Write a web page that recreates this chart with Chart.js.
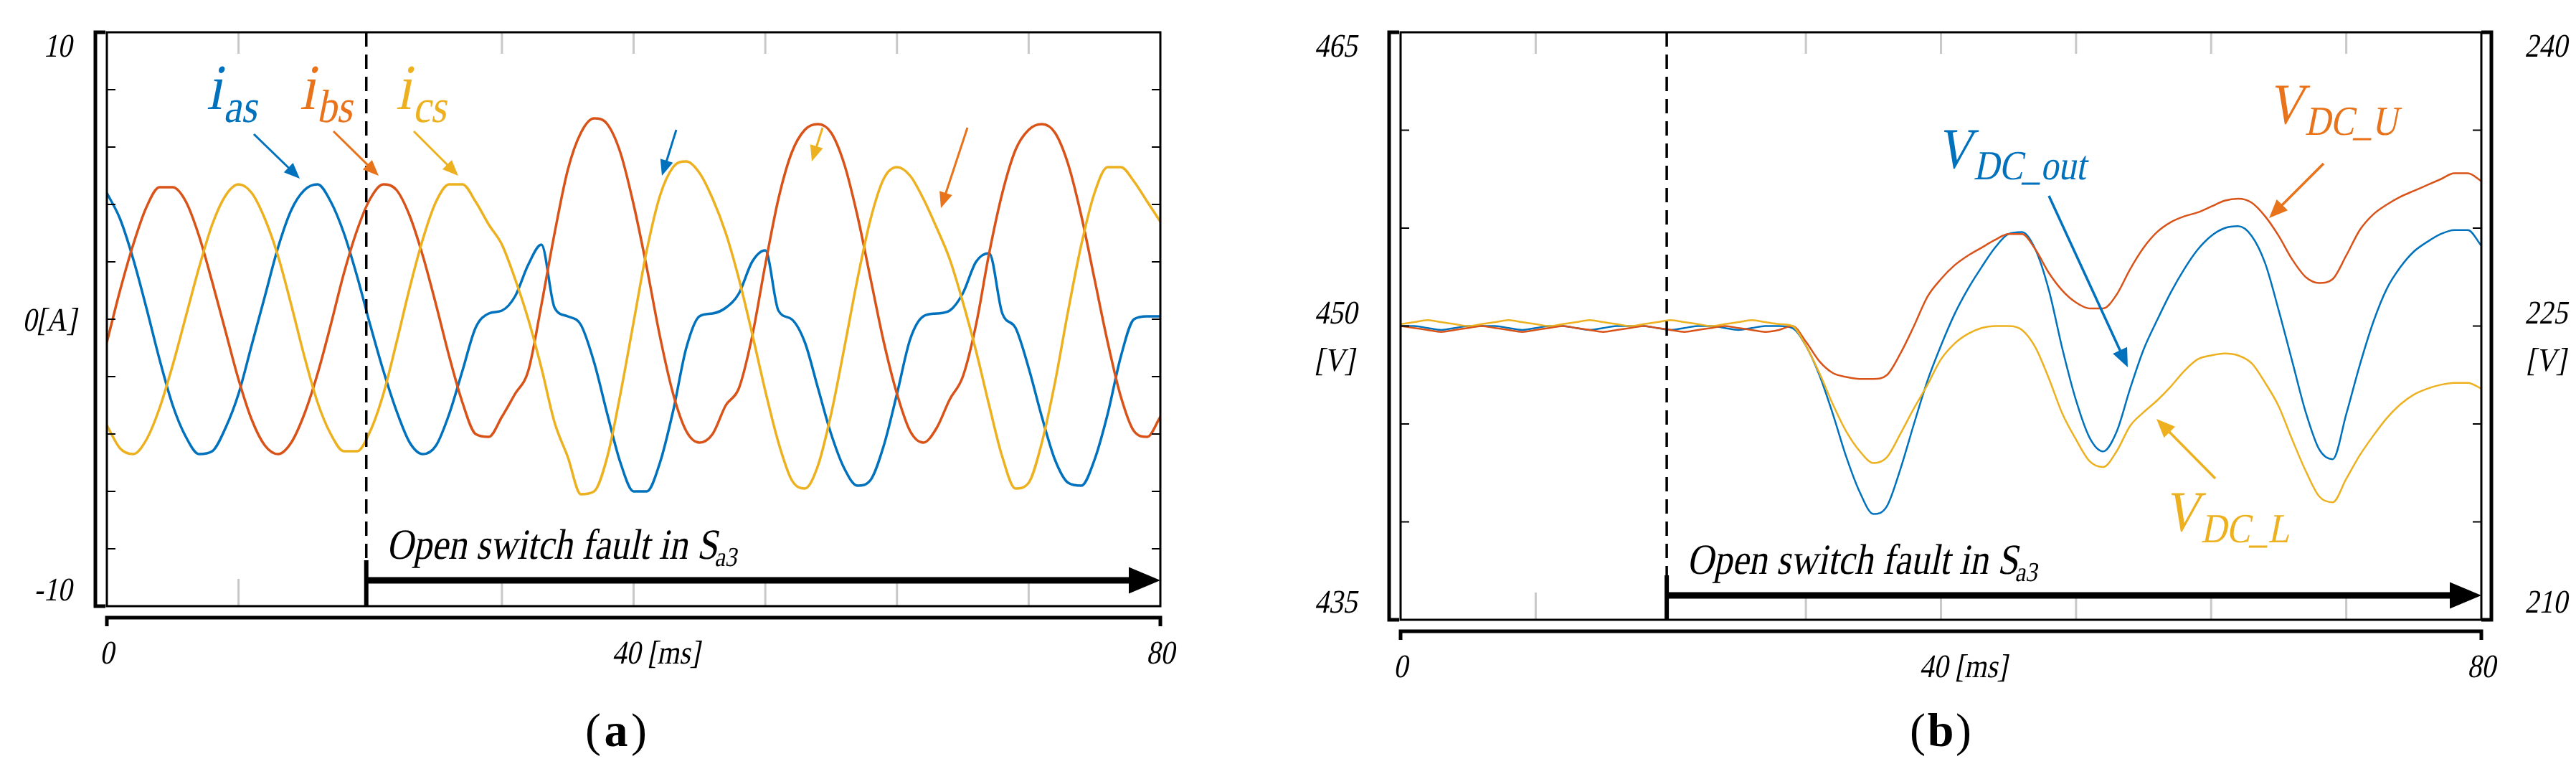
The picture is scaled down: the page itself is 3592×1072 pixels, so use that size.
<!DOCTYPE html>
<html><head><meta charset="utf-8">
<script src="https://cdn.jsdelivr.net/npm/chart.js@4/dist/chart.umd.min.js"></script>
<style>html,body{margin:0;padding:0;background:#fff;width:3592px;height:1072px;overflow:hidden}
canvas{position:absolute;top:0}</style></head><body>
<canvas id="ca" width="1780" height="1072" style="left:0"></canvas>
<canvas id="cb" width="1802" height="1072" style="left:1790px"></canvas>
<script>
// ---------- DATA ----------
const timeMs = Array.from({length:81},(_, i)=>i); // 0..80 ms, 1 ms steps
const ias = [4.4,3.5,2.1,0.4,-1.4,-3.0,-4.1,-4.7,-4.6,-3.8,-2.6,-0.9,0.8,2.5,3.8,4.5,4.7,4.1,3.0,1.5,
 -0.2,-1.8,-3.2,-4.3,-4.7,-4.4,-3.3,-1.8,-0.3,0.2,0.3,0.8,1.9,2.6,0.4,0.1,-0.2,-1.5,-3.3,-5.0,
 -6.0,-6.0,-5.0,-3.2,-1.0,0.1,0.2,0.4,0.9,2.0,2.4,0.3,0.0,-0.8,-2.4,-4.0,-5.2,-5.8,-5.6,-4.4,
 -2.6,-0.7,0.1,0.2,0.3,0.9,2.0,2.3,0.2,-0.3,-1.7,-3.4,-4.9,-5.7,-5.8,-4.9,-3.3,-1.3,0.0,0.1,0.1];
const ibs = [-0.8,1.0,2.6,3.9,4.6,4.6,4.1,2.9,1.3,-0.4,-2.1,-3.5,-4.4,-4.7,-4.3,-3.3,-1.9,-0.2,1.6,3.1,
 4.2,4.7,4.5,3.6,2.2,0.5,-1.3,-2.9,-4.0,-4.1,-3.4,-2.6,-1.8,0.5,3.0,5.2,6.5,7.0,6.8,5.8,
 4.0,1.8,-0.6,-2.6,-3.9,-4.3,-4.0,-3.0,-2.4,-0.6,1.9,4.2,5.8,6.6,6.8,6.5,5.4,3.6,1.4,-0.8,
 -2.6,-3.9,-4.3,-3.8,-2.8,-2.0,-0.2,2.3,4.4,5.9,6.6,6.8,6.5,5.4,3.6,1.4,-0.8,-2.7,-3.9,-4.1,-3.4];
const ics = [-3.7,-4.5,-4.7,-4.2,-3.1,-1.6,0.1,1.8,3.3,4.3,4.7,4.4,3.5,2.2,0.5,-1.3,-2.9,-4.0,-4.6,-4.6,
 -3.9,-2.6,-0.8,1.1,2.8,4.1,4.7,4.7,4.1,3.3,2.6,1.4,0.0,-1.7,-3.6,-4.8,-6.1,-6.0,-4.8,-2.6,
 -0.1,2.4,4.3,5.3,5.5,5.1,4.2,3.0,1.4,-0.5,-2.5,-4.3,-5.6,-5.9,-5.1,-3.3,-1.0,1.4,3.5,4.9,
 5.3,5.0,4.2,3.2,2.1,0.6,-1.1,-3.0,-4.8,-5.9,-5.7,-4.3,-2.2,0.3,2.6,4.4,5.3,5.3,4.8,4.1,3.4];
const vdcOut = [450.0,450.0,449.9,449.8,449.9,450.0,450.0,450.0,449.9,449.8,449.9,450.0,450.0,449.9,449.8,449.9,450.0,450.0,450.0,449.9,
 449.8,449.9,450.0,450.0,449.9,449.8,449.9,450.0,450.0,449.9,
 449.0,447.5,445.5,443.3,441.5,440.4,440.8,442.7,445.0,447.2,449.0,450.6,451.9,453.0,454.0,454.7,454.8,453.9,451.8,448.8,
 446.2,444.3,443.6,444.6,446.8,448.8,450.3,451.7,452.9,453.9,454.6,455.0,455.1,454.6,453.2,450.8,448.2,445.6,443.7,443.2,
 445.5,448.0,450.2,451.9,453.0,453.8,454.3,454.7,454.9,454.9,454.1];
const vdcU = [225.0,224.9,224.8,224.7,224.8,224.9,225.0,224.9,224.8,224.7,224.8,224.9,225.0,224.9,224.8,224.7,224.8,224.9,225.0,224.9,
 224.8,224.7,224.8,224.9,225.0,224.9,224.8,224.7,224.8,225.0,
 224.2,223.2,222.6,222.4,222.3,222.3,222.5,223.6,225.0,226.5,227.4,228.1,228.6,229.0,229.4,229.7,229.7,228.9,227.7,226.8,
 226.2,225.9,225.9,226.6,227.9,229.0,229.8,230.3,230.6,230.8,231.1,231.4,231.5,231.3,230.6,229.6,228.4,227.5,227.2,227.4,
 228.6,229.9,230.7,231.2,231.6,231.9,232.2,232.5,232.8,232.8,232.4];
const vdcL = [225.1,225.2,225.3,225.2,225.1,225.0,225.1,225.2,225.3,225.2,225.1,225.0,225.1,225.2,225.3,225.2,225.1,225.0,225.1,225.2,
 225.3,225.2,225.1,225.0,225.1,225.2,225.3,225.2,225.1,225.0,
 224.0,222.6,221.0,219.6,218.6,218.0,218.3,219.5,220.8,222.0,223.3,224.1,224.6,224.9,225.0,225.0,224.8,223.9,222.3,220.5,
 219.2,218.1,217.8,218.6,219.9,220.6,221.2,221.9,222.7,223.3,223.5,223.6,223.5,223.1,222.1,220.9,219.2,217.6,216.3,216.0,
 217.2,218.4,219.4,220.3,221.0,221.5,221.8,222.0,222.1,222.1,221.8];
const faultMs = 19.7;
const gridMs = [10,30,40,50,60,70];
const ticksA = [-10,-8,-6,-4,-2,0,2,4,6,8,10];
const ticksB = [435,440,445,450,455,460,465];

const BLUE='#0072BD', ORANGE='#D95319', YELLOW='#EDB120', ORANGE2='#E8731A';
const SERIF='"Liberation Serif","Times New Roman",serif';

function pts(arr){return timeMs.map((t,i)=>({x:t,y:arr[i]}));}

// text: style 'i' = slanted+condensed serif, 'n' normal, 'b' bold
function txt(ctx,s,x,y,size,color,align,style){
  style=style||'i';
  ctx.save();
  ctx.font=(style==='b'?'bold ':'')+size+'px '+SERIF;ctx.fillStyle=color||'#000';
  ctx.textAlign=align||'left';ctx.textBaseline='alphabetic';
  if(style==='i'){ctx.translate(x,y);ctx.transform(0.86,0,-0.2,1,0,0);ctx.fillText(s,0,0);}
  else ctx.fillText(s,x,y);
  ctx.restore();
}
function twidth(ctx,s,size){ctx.save();ctx.font=size+'px '+SERIF;const w=ctx.measureText(s).width*0.86;ctx.restore();return w;}
function arrow(ctx,x1,y1,x2,y2,color,w,head){
  const a=Math.atan2(y2-y1,x2-x1);head=head||26;
  ctx.strokeStyle=color;ctx.fillStyle=color;ctx.lineWidth=w;ctx.setLineDash([]);
  ctx.beginPath();ctx.moveTo(x1,y1);ctx.lineTo(x2-Math.cos(a)*head*0.8,y2-Math.sin(a)*head*0.8);ctx.stroke();
  ctx.beginPath();ctx.moveTo(x2,y2);
  ctx.lineTo(x2-head*Math.cos(a)+head*0.42*Math.sin(a),y2-head*Math.sin(a)-head*0.42*Math.cos(a));
  ctx.lineTo(x2-head*Math.cos(a)-head*0.42*Math.sin(a),y2-head*Math.sin(a)+head*0.42*Math.cos(a));
  ctx.closePath();ctx.fill();
}
function frameBelow(chart){
  const {ctx,chartArea:c,scales}=chart;const x=scales.x;
  ctx.save();ctx.strokeStyle='#c8c8c8';ctx.lineWidth=3;
  gridMs.forEach(t=>{const px=x.getPixelForValue(t);
    ctx.beginPath();ctx.moveTo(px,c.top);ctx.lineTo(px,c.top+30);ctx.stroke();
    ctx.beginPath();ctx.moveTo(px,c.bottom);ctx.lineTo(px,c.bottom-38);ctx.stroke();});
  ctx.restore();
}
function frameAbove(chart,opt){
  const {ctx,chartArea:c,scales}=chart;const x=scales.x,y=scales.y;
  ctx.save();
  ctx.strokeStyle='#000';ctx.lineWidth=2;
  opt.ticks.forEach(v=>{const py=y.getPixelForValue(v);
    ctx.beginPath();ctx.moveTo(c.left,py);ctx.lineTo(c.left+12,py);ctx.stroke();
    ctx.beginPath();ctx.moveTo(c.right,py);ctx.lineTo(c.right-12,py);ctx.stroke();});
  ctx.lineWidth=3;ctx.strokeRect(c.left,c.top,c.right-c.left,c.bottom-c.top);
  ctx.lineWidth=5;const bl=c.left-16;
  ctx.beginPath();ctx.moveTo(bl+14,c.top);ctx.lineTo(bl,c.top);ctx.lineTo(bl,c.bottom);ctx.lineTo(bl+14,c.bottom);ctx.stroke();
  if(opt.right){const br=c.right+14;
    ctx.beginPath();ctx.moveTo(br-14,c.top);ctx.lineTo(br,c.top);ctx.lineTo(br,c.bottom);ctx.lineTo(br-14,c.bottom);ctx.stroke();}
  const by=c.bottom+opt.xgap;
  ctx.beginPath();ctx.moveTo(c.left,by+12);ctx.lineTo(c.left,by);ctx.lineTo(c.right,by);ctx.lineTo(c.right,by+12);ctx.stroke();
  const ly=by+64;
  txt(ctx,'0',x.getPixelForValue(0),ly,46,'#000','center');
  txt(ctx,'40 [ms]',x.getPixelForValue(40)-30,ly,46,'#000','left');
  txt(ctx,'80',x.getPixelForValue(80),ly,46,'#000','center');
  const fx=x.getPixelForValue(faultMs);
  ctx.lineWidth=3.5;ctx.setLineDash([20,11]);ctx.strokeStyle='#000';
  ctx.beginPath();ctx.moveTo(fx,c.top);ctx.lineTo(fx,c.bottom);ctx.stroke();ctx.setLineDash([]);
  ctx.lineWidth=6;ctx.beginPath();ctx.moveTo(fx,opt.arrowY-28);ctx.lineTo(fx,c.bottom);ctx.stroke();
  arrow(ctx,fx,opt.arrowY,x.getPixelForValue(80),opt.arrowY,'#000',9,44);
  const s='Open switch fault in S';
  txt(ctx,s,fx+28,opt.arrowY-30,60,'#000','left');
  txt(ctx,'a3',fx+28+twidth(ctx,s,60)-4,opt.arrowY-20,38,'#000','left');
  txt(ctx,'(',opt.lblX-32,opt.lblY,66,'#000','center','n');
  txt(ctx,opt.lbl,opt.lblX,opt.lblY,66,'#000','center','b');
  txt(ctx,')',opt.lblX+32,opt.lblY,66,'#000','center','n');
  ctx.restore();
}
function sub(ctx,main,subs,x,y,size,color){
  txt(ctx,main,x,y,size,color);
  const w=twidth(ctx,main,size);txt(ctx,subs,x+w+2,y+size*0.2,size*0.72,color);
}
const common=(pad)=>({responsive:false,animation:false,devicePixelRatio:1,
  layout:{padding:pad},plugins:{legend:{display:false},tooltip:{enabled:false}},
  elements:{point:{radius:0},line:{cubicInterpolationMode:'monotone'}}});

// ---------- CHART A ----------
new Chart(document.getElementById('ca'),{type:'line',
 data:{datasets:[
  {data:pts(ics),borderColor:YELLOW,borderWidth:3.5},
  {data:pts(ibs),borderColor:ORANGE,borderWidth:3.5},
  {data:pts(ias),borderColor:BLUE,borderWidth:3.5}]},
 options:Object.assign(common({left:149,right:162,top:45,bottom:227}),{
  scales:{x:{type:'linear',min:0,max:80,display:false},y:{min:-10,max:10,display:false}}}),
 plugins:[{id:'fa',beforeDatasetsDraw(ch){frameBelow(ch);},
  afterDraw(ch){const ctx=ch.ctx,y=ch.scales.y;
   frameAbove(ch,{ticks:ticksA,xgap:16,arrowY:809,lbl:'a',lblX:859,lblY:1040});
   ctx.save();
   txt(ctx,'10',100,y.getPixelForValue(10)+34,46,'#000','right');
   txt(ctx,'0[A]',106,y.getPixelForValue(0)+16,46,'#000','right');
   txt(ctx,'-10',100,y.getPixelForValue(-10)-8,46,'#000','right');
   sub(ctx,'i','as',288,152,90,BLUE);
   sub(ctx,'i','bs',418,152,90,ORANGE2);
   sub(ctx,'i','cs',552,152,90,YELLOW);
   arrow(ctx,354,187,418,249,BLUE,3,22);
   arrow(ctx,465,183,528,245,ORANGE2,3,22);
   arrow(ctx,577,183,639,245,YELLOW,3,22);
   arrow(ctx,943,181,923,245,BLUE,3,22);
   arrow(ctx,1147,178,1132,225,YELLOW,3,22);
   arrow(ctx,1349,178,1312,290,ORANGE2,3,22);
   ctx.restore();}}]
});

// ---------- CHART B ----------
new Chart(document.getElementById('cb'),{type:'line',
 data:{datasets:[
  {data:pts(vdcL),borderColor:YELLOW,borderWidth:2.5,yAxisID:'y2'},
  {data:pts(vdcU),borderColor:ORANGE,borderWidth:2.5,yAxisID:'y2'},
  {data:pts(vdcOut),borderColor:BLUE,borderWidth:2.5,yAxisID:'y'}]},
 options:Object.assign(common({left:163,right:132,top:45,bottom:208}),{
  scales:{x:{type:'linear',min:0,max:80,display:false},y:{min:435,max:465,display:false},
   y2:{min:210,max:240,display:false}}}),
 plugins:[{id:'fb',beforeDatasetsDraw(ch){frameBelow(ch);},
  afterDraw(ch){const ctx=ch.ctx,y=ch.scales.y,y2=ch.scales.y2;
   frameAbove(ch,{ticks:ticksB,xgap:16,arrowY:830,right:true,lbl:'b',lblX:916,lblY:1040});
   ctx.save();
   txt(ctx,'465',102,y.getPixelForValue(465)+34,46,'#000','right');
   txt(ctx,'450',102,y.getPixelForValue(450)-4,46,'#000','right');
   txt(ctx,'[V]',98,y.getPixelForValue(450)+62,46,'#000','right');
   txt(ctx,'435',102,y.getPixelForValue(435)-10,46,'#000','right');
   const rx=1760;
   txt(ctx,'240',rx,y2.getPixelForValue(240)+34,46,'#000','center');
   txt(ctx,'225',rx,y2.getPixelForValue(225)-4,46,'#000','center');
   txt(ctx,'[V]',rx,y2.getPixelForValue(225)+62,46,'#000','center');
   txt(ctx,'210',rx,y2.getPixelForValue(210)-10,46,'#000','center');
   const o=-1790;
   sub(ctx,'V','DC_U',3162+o,172,80,ORANGE2);
   sub(ctx,'V','DC_out',2700+o,234,80,BLUE);
   sub(ctx,'V','DC_L',3017+o,740,80,YELLOW);
   arrow(ctx,3240+o,228,3164+o,304,ORANGE2,3.5,26);
   arrow(ctx,2857+o,273,2967+o,512,BLUE,3.5,26);
   arrow(ctx,3089+o,667,3007+o,584,YELLOW,3.5,26);
   ctx.restore();}}]
});
</script></body></html>
